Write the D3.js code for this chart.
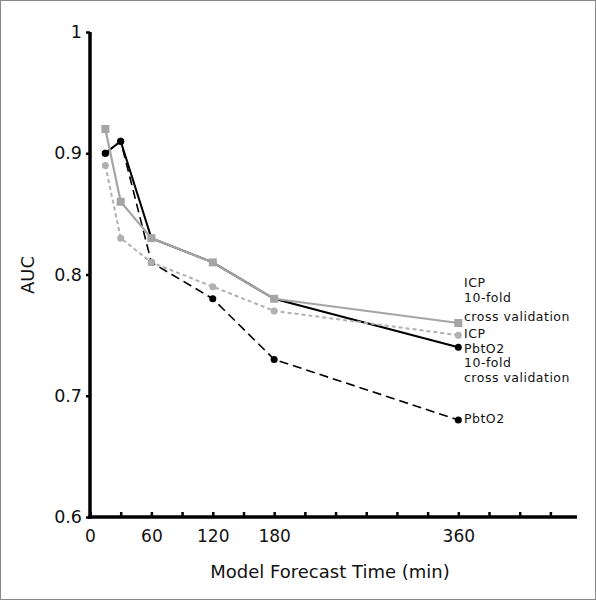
<!DOCTYPE html>
<html><head><meta charset="utf-8">
<script src="https://cdn.jsdelivr.net/npm/d3@7"></script>
<style>body{margin:0;background:#fff}svg{display:block}text{font-family:"DejaVu Sans",sans-serif;fill:#111}</style>
</head><body>
<svg id="c" width="596" height="600"></svg>
<script>
const times = [15, 30, 60, 120, 180, 360];
const icpCV = [0.92, 0.86, 0.83, 0.81, 0.78, 0.76];
const icp = [0.89, 0.83, 0.81, 0.79, 0.77, 0.75];
const pbtCV = [0.90, 0.91, 0.83, 0.81, 0.78, 0.74];
const pbt = [0.90, 0.91, 0.81, 0.78, 0.73, 0.68];
const xTicks = d3.range(0, 451, 30);
const xLabels = [0, 60, 120, 180, 360];
const yTicks = [0.6, 0.7, 0.8, 0.9, 1];

const svg = d3.select("#c");
svg.append("rect").attr("x",0.5).attr("y",0.5).attr("width",595).attr("height",599)
  .attr("fill","none").attr("stroke","#888").attr("stroke-width",1);

const x = d3.scaleLinear().domain([0, 476]).range([90, 577]);
const y = d3.scaleLinear().domain([0.6, 1]).range([517, 32]);

// axes
const xa = svg.append("g").attr("transform", `translate(0,${y(0.6)})`)
  .call(d3.axisBottom(x).tickValues(xTicks).tickSize(-5).tickFormat(d => xLabels.includes(d) ? d : ""));
xa.select(".domain").attr("stroke","#000").attr("stroke-width",3.5).attr("d", `M${x(0)-2},0H${x(476)}`);
xa.selectAll(".tick line").attr("stroke","#000").attr("stroke-width",2.5);
xa.selectAll(".tick text").attr("y",25).attr("dy",null).attr("font-size",17).style("font-family","DejaVu Sans");

const ya = svg.append("g").attr("transform", `translate(${x(0)},0)`)
  .call(d3.axisLeft(y).tickValues(yTicks).tickSize(4).tickFormat(d => d === 1 ? "1" : d3.format(".1f")(d)));
ya.select(".domain").attr("stroke","#000").attr("stroke-width",3.5).attr("d", `M0,${y(1)}V${y(0.6)+1.5}`);
ya.selectAll(".tick line").attr("stroke","#000").attr("stroke-width",2.5);
ya.selectAll(".tick text").attr("x",-8).attr("font-size",17.5).style("font-family","DejaVu Sans");

svg.append("text").attr("x", 330).attr("y", 578).attr("text-anchor","middle").attr("font-size",18)
  .text("Model Forecast Time (min)");
svg.append("text").attr("transform","translate(34,275) rotate(-90)").attr("text-anchor","middle").attr("font-size",18)
  .text("AUC");

const line = d3.line().x(d => x(d[0])).y(d => y(d[1]));
function series(vals, color, dash, marker, w) {
  const pts = times.map((t, i) => [t, vals[i]]);
  svg.append("path").datum(pts).attr("d", line).attr("fill","none").attr("stroke",color)
    .attr("stroke-width",w).attr("stroke-dasharray",dash);
  if (marker === "sq") {
    svg.selectAll(null).data(pts).enter().append("rect")
      .attr("x", d => x(d[0]) - 4).attr("y", d => y(d[1]) - 4).attr("width",8).attr("height",8).attr("fill",color);
  } else {
    svg.selectAll(null).data(pts).enter().append("circle")
      .attr("cx", d => x(d[0])).attr("cy", d => y(d[1])).attr("r",3.5).attr("fill",color);
  }
}
series(pbt, "#000", "9,5", "c", 1.6);
series(pbtCV, "#000", null, "c", 2);
series(icp, "#b0b0b0", "4,3", "c", 2);
series(icpCV, "#a5a5a5", null, "sq", 2.2);

// end labels
const lab = [
  {lines:["ICP","10-fold","cross validation"], ys:[283,298,317]},
  {lines:["ICP"], ys:[334]},
  {lines:["PbtO2","10-fold","cross validation"], ys:[348.5,363,377.5]},
  {lines:["PbtO2"], ys:[419]}
];
lab.forEach(l => l.lines.forEach((t, i) => {
  svg.append("text").attr("x", 464).attr("y", l.ys[i]).attr("dy","0.35em")
    .attr("font-size",12.5).attr("letter-spacing",0.5).text(t);
}));
</script>
</body></html>
